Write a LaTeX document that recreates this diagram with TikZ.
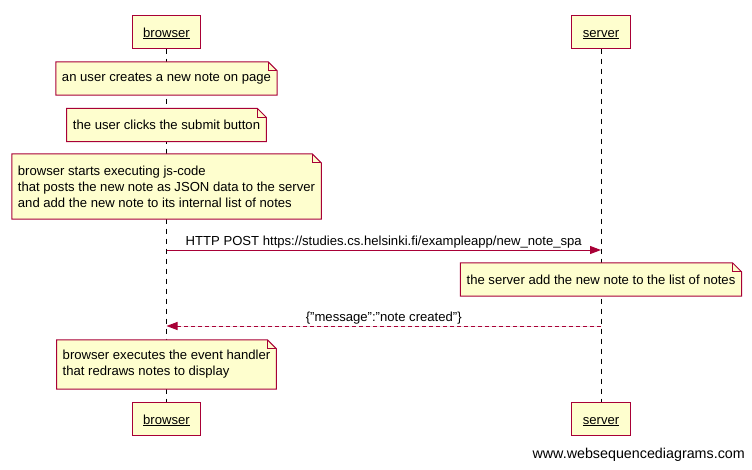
\documentclass[tikz,border=0pt]{standalone}
\usepackage{fontspec}
\setmainfont{Liberation Sans}
\usetikzlibrary{arrows.meta}
\definecolor{wsdred}{HTML}{A80036}
\definecolor{wsdpaper}{HTML}{FEFECE}
\pgfdeclarelayer{lifelines}
\pgfdeclarelayer{paper}
\pgfsetlayers{lifelines,paper,main}
\tikzset{
  every picture/.style={font={\fontsize{13.1}{16}\selectfont}, >={Triangle[length=11pt,width=8pt]}},
  noteline/.style={draw=wsdred, fill=wsdpaper, line width=1pt}}

% folded paper drawn behind a note node
\newcommand{\dogear}[1]{%
  \begin{pgfonlayer}{paper}
    \filldraw[noteline] (#1.north west) -- ([xshift=-9pt]#1.north east)
      -- ([yshift=-9pt]#1.north east) -- (#1.south east) -- (#1.south west) -- cycle;
    \draw[noteline, fill=none] ([xshift=-9pt]#1.north east) |- ([yshift=-9pt]#1.north east);
  \end{pgfonlayer}}

\begin{document}
\begin{tikzpicture}[x=1pt, y=-1pt]
    \tikzstyle{actor}=[draw=wsdred, fill=wsdpaper, line width=1pt, minimum height=33pt, inner xsep=11pt,
      text height=11pt, text depth=0pt]
    \tikzstyle{note}=[align=left, inner xsep=6pt, inner ysep=0pt, minimum height=33pt]
    \tikzstyle{lifeline}=[line width=1pt, dash pattern=on 5pt off 5pt]
    \tikzstyle{msg}=[draw=wsdred, line width=1pt]

    \useasboundingbox (0, 0) rectangle (752, 469);

    % participants
    \node[actor] (B)  at (166.5, 31.5)  {\underline{browser}};
    \node[actor] (S)  at (601, 31.5)    {\underline{server}};
    \node[actor] (B2) at (166.5, 418.5) {\underline{browser}};
    \node[actor] (S2) at (601, 418.5)   {\underline{server}};

    \begin{pgfonlayer}{lifelines}
      \draw[lifeline] (B) -- (B2);
      \draw[lifeline] (S) -- (S2);
    \end{pgfonlayer}

    % notes
    \node[note] (N1) at (166.5, 78.5) {an user creates a new note on page};
    \node[note] (N2) at (166.5, 125)  {the user clicks the submit button};
    \node[note, minimum height=65pt] (N3) at (166.5, 186.5)
      {browser starts executing js-code\\that posts the new note as JSON data to the server\\and add the new note to its internal list of notes};
    \node[note] (N4) at (601, 279.5)  {the server add the new note to the list of notes};
    \node[note, minimum height=49pt] (N5) at (166.5, 364.5)
      {browser executes the event handler\\that redraws notes to display};
    \dogear{N1} \dogear{N2} \dogear{N3} \dogear{N4} \dogear{N5}

    % messages
    \coordinate (Bpost) at (B |- 0, 250);
    \coordinate (Spost) at (S |- 0, 250);
    \coordinate (Bresp) at (B |- 0, 326);
    \coordinate (Sresp) at (S |- 0, 326);

    \draw[msg, ->, fill=wsdred] (Bpost) -- node[above, inner sep=1.5pt, text=black]
      {HTTP POST https://studies.cs.helsinki.fi/exampleapp/new\_note\_spa} (Spost);
    \draw[msg, ->, fill=wsdred, dash pattern=on 4pt off 3pt] (Sresp) -- node[above, inner sep=1pt, text=black]
      {\{"message":"note created"\}} (Bresp);

    \node[anchor=base east, inner sep=0pt, font={\fontsize{14.3}{17}\selectfont}] (W) at (745, 458)
      {www.websequencediagrams.com};
\end{tikzpicture}
\end{document}
